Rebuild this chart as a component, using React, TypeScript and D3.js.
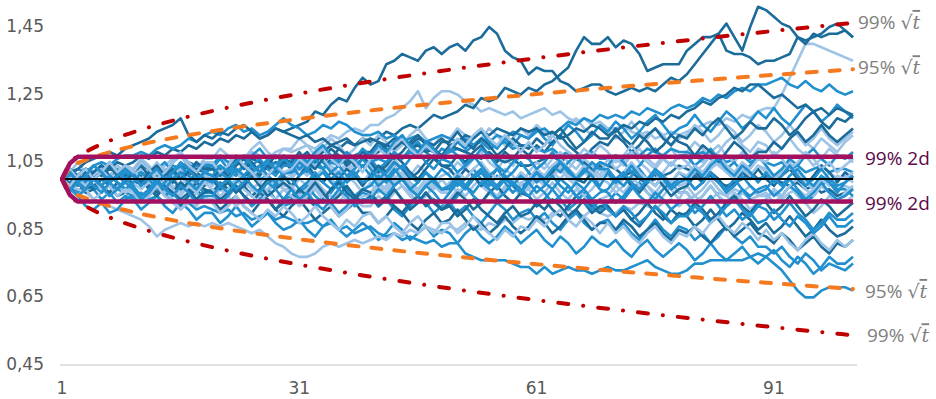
import * as d3 from "d3";

// simulated price paths, values in hundredths, t = 1..101
const darkPaths: number[][] = [
  [100,102,101,103,102,104,103,105,104,105, 107,106,108,107,109,108,110,109,111,110, 112,111,113,112,114,112,113,115,114,115, 116,117,120,119,122,124,123,127,130,128,129, 134,135,137,136,135,138,139,137,139,140, 138,141,142,145,143,138,136,135,131,133, 132,132,129,128,126,127,128,128,126,125, 126,127,126,127,126,128,130,129,131,134, 137,140,143,146,142,138,145,151,150,148, 146,145,142,140,143,142,143,143,144,142],
  [100,99,101,100,102,101,103,102,101,102, 104,103,101,102,104,103,105,104,103,104, 102,103,105,104,106,105,103,104,106,105, 106,107,106,108,110,109,111,110,112,111,112, 114,113,115,116,115,117,119,118,119,120, 122,121,124,123,124,127,126,125,127,126, 128,129,131,133,138,142,140,140,142,139, 141,140,137,132,133,134,134,134,138,140, 142,142,143,138,137,137,136,134,135,135, 136,137,142,141,142,143,145,146,144,142],
  [100,98,99,96,97,100,98,95,96,97, 94,95,98,96,93,92,95,97,94,94, 91,93,95,92,90,93,94,91,89,92, 94,91,88,90,92,89,91,93,90,90, 87,89,92,90,87,85,88,90,87,88, 91,88,85,87,84,86,89,86,84,86, 89,87,84,86,89,91,88,85,87,87, 85,88,86,83,85,87,84,82,85,84, 86,83,81,84,86,83,85,87,84,83, 81,84,82,79,81,83,80,78,81,80, 82],
  [100,103,101,99,102,104,101,100,103,101, 99,102,100,97,99,102,104,101,98,100, 103,101,104,106,103,101,104,102,105,103, 106,108,105,103,106,109,107,104,106,105, 102,104,107,105,102,100,103,106,104,104, 107,105,108,110,107,105,108,106,109,107, 110,108,111,113,110,108,106,109,111,110, 113,111,108,110,113,115,112,110,113,112, 115,113,116,118,115,112,114,117,115,115, 118,116,113,115,118,120,117,115,118,117, 119],
  [100,98,99,97,98,100,99,101,100,99, 100,102,101,99,100,102,101,103,102,101, 102,104,103,101,102,104,103,105,104,104, 105,104,106,105,107,106,105,107,108,107, 108,110,109,111,110,112,111,110,112,110, 111,113,112,114,113,115,114,113,115,114, 115,113,114,112,113,115,114,116,115,113, 114,116,115,117,116,118,117,119,118,120, 121,123,122,124,125,127,126,128,128,126, 124,125,123,121,122,120,121,119,121,120, 119],
  [100,102,103,105,106,107,108,107,109,110, 111,112,114,115,116,118,113,111,113,112, 114,113,115,116,114,112,113,115,114,113, 112,113,111,112,110,111,112,110,111,112, 111,110,112,111,109,110,108,109,107,110, 109,108,107,106,108,106,105,106,104,104, 105,106,107,105,107,106,105,103,105,104, 103,101,102,100,99,100,101,102,104,103, 102,100,101,99,98,99,100,102,100,101, 100,99,98,99,97,98,96,97,95,96, 97],
  [100,97,99,102,100,98,101,99,96,99, 101,98,96,99,97,94,96,99,97,96, 99,97,100,98,95,97,100,98,101,98, 101,104,101,99,102,100,103,101,98,101, 104,102,105,103,100,102,105,107,104,103, 100,103,101,98,100,103,101,98,96,100, 103,100,102,105,103,100,99,102,104,102, 99,101,98,96,99,101,98,95,97,98, 101,99,102,100,97,99,102,100,103,100, 98,101,103,100,98,101,104,102,99,102, 100],
  [100,102,99,97,100,98,96,99,97,98, 100,97,95,98,96,99,97,94,96,97, 94,96,98,95,93,96,94,91,93,94, 97,95,92,94,97,99,96,94,97,96, 93,95,92,90,93,95,92,94,91,93, 96,94,91,93,96,98,95,93,96,95, 92,94,91,89,92,95,93,90,92,92, 89,91,88,90,93,90,88,91,89,90, 93,91,88,90,93,95,92,90,93,93, 90,92,95,92,89,91,94,92,89,91, 93],
  [100,98,101,103,100,102,104,101,99,102, 104,101,99,102,100,97,99,102,100,100, 97,99,96,98,101,98,95,97,99,97, 94,96,99,96,93,95,98,95,93,95, 92,94,97,94,91,93,96,93,91,92, 89,91,94,91,89,87,90,92,89,90, 93,91,94,92,89,91,94,92,90,92, 89,91,88,86,89,92,89,87,90,89, 86,88,91,88,85,87,90,88,85,87, 84,86,89,86,83,85,88,85,83,84, 86],
  [100,98,101,103,100,102,99,101,104,101, 99,102,104,101,103,100,102,105,103,103, 101,104,106,103,105,102,104,107,105,105, 108,105,103,106,109,107,104,106,108,108, 111,109,106,108,111,113,110,108,111,111, 114,111,109,112,110,107,109,112,110,109, 112,110,113,115,112,109,111,114,112,112, 115,112,110,113,111,108,110,113,111,110, 107,110,108,105,108,111,109,106,108,108, 111,109,112,114,111,113,116,113,111,113, 115],
];

const midPaths: number[][] = [
  [100,99,98,99,97,98,96,97,96,95, 96,94,95,93,94,92,93,91,92,91, 90,91,89,90,88,89,90,88,89,88, 87,87,88,86,87,85,86,84,85,86,84, 83,84,82,83,82,81,82,80,81,81, 78,77,76,76,76,76,75,74,74,72, 74,72,73,74,73,73,72,73,74,73, 73,74,75,76,74,73,72,72,73,75, 75,76,76,76,76,76,77,78,77,75, 73,70,67,65,65,67,68,68,68,67],
  [100,98,96,99,97,94,96,93,95,94, 91,93,95,92,90,93,91,88,90,90, 87,89,92,89,86,88,90,87,85,86, 88,85,83,86,88,85,83,85,87,85, 82,84,87,85,82,84,86,83,85,84, 81,84,86,83,81,83,86,84,81,83, 85,82,80,83,81,78,80,83,81,80, 82,79,77,80,82,79,77,79,81,79, 76,78,81,78,76,78,80,77,75,77, 79,76,74,77,75,72,74,77,75,75, 77],
  [100,102,99,97,100,98,96,99,97,98, 100,97,95,98,96,93,95,98,96,96, 93,95,98,95,93,96,94,91,94,95, 97,94,92,95,93,90,92,95,93,95, 92,94,91,89,92,95,93,90,92,93, 90,92,89,87,90,93,91,88,90,91, 88,90,87,85,88,90,87,85,87,88, 85,87,84,82,85,88,85,83,86,85, 82,84,81,83,86,83,81,83,80,80, 78,80,77,75,78,76,73,75,74,73, 75],
  [100,103,101,99,102,104,101,103,100,102, 105,103,100,102,105,107,104,102,104,104, 101,103,106,104,101,103,106,104,101,103, 106,104,107,109,106,104,107,105,108,106, 103,105,108,106,109,111,108,106,109,108, 111,109,112,114,111,109,112,110,113,112, 115,112,110,113,116,114,111,113,116,114, 117,115,112,114,117,119,116,113,115,116, 119,116,114,117,120,118,115,117,120,118, 121,118,116,119,122,120,117,119,122,120, 118],
  [100,102,101,99,100,102,101,100,102,101, 102,101,103,102,104,103,102,104,103,103, 104,102,103,101,102,100,101,103,102,102, 103,102,104,103,105,104,106,105,104,105, 106,105,107,106,108,107,109,108,107,108, 109,108,110,112,111,113,112,114,113,112, 114,115,113,115,117,116,118,117,119,118, 119,118,120,119,121,120,119,121,122,121, 122,124,123,125,124,126,127,126,128,128, 129,130,128,127,129,127,126,128,126,125, 126],
  [100,101,103,102,104,105,104,106,107,107, 108,107,109,110,109,110,112,111,113,114, 113,115,116,114,115,113,114,116,118,116, 115,113,114,116,115,117,116,114,113,113, 114,112,113,111,112,113,111,112,113,112, 111,112,110,111,109,110,111,109,110,110, 109,108,109,107,108,106,107,108,106,106, 107,106,108,107,109,108,107,109,108,108, 107,108,106,107,105,106,107,105,106,105, 104,105,103,104,102,103,104,102,103,103, 102],
  [100,97,95,92,91,93,90,91,94,95, 93,96,98,95,97,99,96,94,97,96, 93,95,98,95,92,94,97,94,92,93, 96,98,95,93,96,99,97,94,96,95, 92,94,97,94,91,93,96,93,91,92, 95,98,95,93,96,94,97,99,96,95, 92,94,97,94,91,93,96,93,91,93, 96,94,97,99,96,94,97,99,96,96, 93,95,98,95,92,94,97,94,92,94, 97,95,98,96,93,95,98,100,97,97, 95],
  [100,102,99,101,104,102,99,101,103,101, 98,100,103,105,102,100,103,105,102,103, 106,103,101,104,102,99,101,98,100,100, 97,99,102,99,97,100,97,95,97,98, 101,99,102,104,101,99,102,100,103,101, 98,100,103,100,98,101,99,96,98,99, 96,98,101,98,96,99,97,94,96,97, 100,98,101,103,100,98,101,99,102,100, 97,99,102,99,97,100,97,95,97,98, 95,97,100,97,94,96,99,96,94,95, 97],
  [100,98,101,103,100,102,105,102,100,102, 105,103,100,102,105,107,104,102,105,104, 107,105,102,104,107,109,106,104,107,106, 103,105,108,105,102,104,101,103,106,103, 100,102,105,103,106,108,105,103,106,105, 102,104,107,104,101,103,100,102,105,102, 99,101,104,102,105,107,104,102,105,104, 107,105,102,104,107,109,106,104,107,107, 104,106,109,106,103,105,102,104,107,104, 101,103,106,104,107,109,106,104,107,106, 108],
  [100,102,99,97,100,98,101,99,97,99, 102,100,97,99,102,104,101,99,102,101, 98,100,103,101,104,106,103,101,104,104, 101,103,106,103,100,102,99,101,104,101, 98,100,103,100,97,99,102,99,97,98, 101,98,96,99,97,94,96,99,97,95, 98,96,93,95,98,95,93,91,94,91, 89,92,90,87,89,92,90,87,89,89, 92,90,87,89,92,94,91,89,92,91, 88,90,93,90,88,85,87,90,88,88, 90],
  [100,98,95,97,100,98,95,97,99,97, 94,96,99,97,100,102,99,97,100,99, 102,100,97,99,102,104,101,99,102,102, 105,103,100,102,99,97,100,102,99,100, 103,101,98,100,97,95,98,100,97,97, 100,98,101,103,100,98,101,99,96,99, 102,99,97,100,98,95,97,100,97,96, 93,95,98,95,93,96,94,91,93,93, 90,92,95,92,89,91,88,90,87,88, 91,88,86,89,87,84,86,89,86,86, 88],
  [100,102,99,101,104,102,99,101,103,101, 98,101,103,100,102,105,103,100,102,101, 104,102,105,107,104,102,105,103,106,104, 107,105,108,110,107,105,108,106,109,107, 110,108,111,113,110,108,111,109,106,109, 107,104,106,109,107,104,102,105,107,106, 103,105,108,105,103,100,102,105,103,103, 100,102,99,97,100,103,101,98,100,100, 103,101,104,106,103,101,104,102,99,102, 99,101,104,101,98,100,103,100,98,99, 101],
  [100,97,99,101,98,96,99,97,100,98, 95,97,100,97,95,98,96,93,95,95, 98,96,99,101,98,96,99,97,94,97, 94,96,93,91,94,97,95,92,94,94, 97,95,98,100,97,95,98,96,93,96, 99,97,100,102,99,97,100,98,101,99, 102,100,103,105,102,100,103,101,98,102, 99,101,104,101,99,102,100,97,99,100, 97,99,102,99,96,98,101,98,96,97, 100,98,101,103,100,98,101,99,96,99, 101],
];

const lightPaths: number[][] = [
  [100,101,99,100,102,101,100,102,101,101, 103,102,104,103,102,104,105,103,104,104, 106,105,107,106,108,107,106,108,109,108, 109,110,109,111,113,112,114,115,114,116,116, 118,119,121,123,126,121,124,126,126,125, 123,122,120,121,120,119,120,118,119,120, 121,119,120,118,117,118,116,117,115,115, 116,114,113,114,112,113,114,113,114,115, 116,117,116,118,117,119,118,120,121,121, 125,130,135,140,140,139,138,137,136,135],
  [100,98,97,96,94,93,92,91,90,89, 88,86,83,85,86,87,86,87,86,87, 86,87,86,85,84,85,83,81,80,78, 77,77,78,80,81,80,81,82,81,82, 83,82,84,83,85,84,86,85,84,86, 85,87,86,85,87,86,88,87,89,88, 89,88,90,89,91,90,89,91,90,89, 90,92,91,93,92,91,93,94,92,94, 95,93,94,96,95,97,96,94,95,95, 96,94,96,97,95,97,98,96,97,98, 97],
  [100,102,105,102,100,103,105,102,104,103, 106,104,101,104,106,108,105,103,106,106, 109,107,104,106,109,111,108,106,109,109, 112,110,107,109,112,110,107,109,112,110, 113,111,108,110,113,115,112,110,113,112, 115,113,110,112,115,113,110,112,115,113, 116,114,111,113,116,118,115,113,116,115, 112,114,117,114,112,115,113,110,112,113, 116,114,111,113,116,114,111,113,116,114, 111,113,116,113,110,112,115,112,110,112, 114],
  [100,103,101,98,100,103,101,104,102,102, 99,101,98,96,99,101,98,100,102,99, 102,100,97,99,102,104,101,99,102,101, 104,102,105,107,104,102,105,103,106,104, 101,103,106,103,101,104,102,99,101,102, 105,103,106,108,105,103,106,104,107,106, 103,105,102,100,103,106,104,101,103,103, 106,104,107,109,106,104,107,109,106,108, 111,109,106,108,111,113,110,108,111,110, 107,109,112,109,107,104,106,109,107,107, 105],
  [100,102,99,97,100,98,96,99,97,98, 101,99,96,98,101,103,100,98,101,100, 97,99,102,99,97,94,96,99,97,97, 100,98,101,103,100,98,101,99,96,99, 96,98,101,98,96,93,95,98,96,96, 99,97,100,102,99,97,100,98,95,98, 101,99,102,104,101,99,102,100,103,101, 98,100,103,100,98,95,97,100,98,99, 102,100,103,105,102,100,103,101,104,103, 100,102,105,102,100,97,99,102,100,101, 99],
  [100,98,95,97,100,97,95,98,96,97, 94,96,99,96,94,91,93,96,94,94, 97,95,92,94,97,99,96,94,97,95, 92,94,97,94,92,89,91,94,92,92, 95,93,96,98,95,93,96,94,91,94, 97,95,98,100,97,95,98,96,99,97, 94,96,99,96,94,97,95,92,94,95, 98,96,99,101,98,96,99,97,94,98, 95,97,100,97,95,93,96,98,95,96, 93,95,98,95,93,90,92,95,93,93, 95],
  [100,103,100,98,101,103,100,102,99,101, 98,100,103,100,98,96,99,97,100,98, 101,99,96,98,101,103,100,98,101,100, 103,101,104,106,103,101,104,102,99,102, 99,101,104,101,99,97,100,98,96,99, 96,98,101,98,96,94,97,99,96,97, 100,98,101,103,100,98,95,97,100,99, 96,98,101,98,96,93,95,98,96,96, 93,95,98,95,93,96,94,91,93,94, 97,95,98,100,97,95,98,96,93,96, 98],
  [100,98,101,103,100,102,105,102,104,103, 100,102,105,102,100,98,101,99,102,101, 98,100,103,100,98,95,97,100,98,98, 95,97,100,97,95,93,96,94,97,96, 99,97,100,102,99,97,100,98,96,99, 102,100,103,105,102,100,103,101,98,102, 105,103,106,108,105,103,106,104,101,106, 103,105,108,105,103,100,102,105,103,104, 107,105,108,110,107,105,108,106,109,108, 111,109,112,114,111,109,112,110,108,111, 113],
  [100,102,99,97,100,98,101,99,96,99, 97,99,102,99,97,95,98,96,99,97, 95,97,100,97,95,93,96,94,97,95, 93,95,98,95,93,96,94,92,95,95, 98,96,99,101,98,96,99,97,100,97, 100,98,101,103,100,98,101,99,102,100, 103,101,104,106,103,101,104,102,100,103, 100,102,105,102,100,98,101,99,102,101, 104,102,105,107,104,102,105,103,106,105, 108,106,103,105,108,106,103,105,102,104, 106],
  [100,98,95,97,94,96,98,95,97,96, 93,95,98,95,93,91,94,92,95,93, 90,92,95,92,90,88,91,89,92,90, 87,89,92,89,87,85,88,86,89,90, 87,89,86,84,87,89,86,84,87,87, 84,86,89,86,84,82,85,83,86,85, 88,86,89,91,88,86,89,87,84,87, 84,86,83,81,84,86,83,81,84,83, 86,84,87,89,86,84,87,85,82,85, 82,84,81,79,82,84,81,79,82,80, 82],
  [100,98,101,103,100,102,105,102,104,102, 105,103,100,102,105,107,104,102,105,105, 102,104,107,104,102,99,101,104,102,103, 106,104,107,109,106,104,107,105,102,106, 109,107,110,112,109,107,110,108,106,109, 112,110,113,115,112,110,113,111,108,111, 108,110,113,110,108,106,109,107,110,108, 105,107,110,107,105,103,106,104,107,105, 102,104,107,104,102,100,103,101,104,102, 99,101,104,101,99,97,100,98,101,100, 102],
];

// confidence bands: half-widths sampled along t
const bandT = [1, 2, 4, 7, 11, 16, 22, 31, 41, 51, 61, 71, 81, 91, 101];
const band99 = [0, 0.0462, 0.08, 0.1131, 0.1461, 0.1789, 0.2117, 0.253, 0.2922, 0.3267, 0.3579, 0.3865, 0.4132, 0.4383, 0.462];
const band95 = [0, 0.0325, 0.0563, 0.0796, 0.1028, 0.1259, 0.1489, 0.178, 0.2056, 0.2298, 0.2517, 0.2719, 0.2907, 0.3083, 0.325];
const twoDayT = [1, 2, 3, 101];
const twoDay = [0, 0.047, 0.066, 0.066];

const yTicks = [0.45, 0.65, 0.85, 1.05, 1.25, 1.45];
const xTicks = [1, 31, 61, 91];

const DARK = "#1b6c9a";
const MID = "#2290cf";
const LIGHT = "#9dc3e6";

export default function App() {
  const x = d3.scaleLinear().domain([1, 101]).range([62, 853]);
  const y = d3.scaleLinear().domain([0.45, 1.45]).range([365, 27]);

  const pathLine = d3
    .line<number>()
    .x((_, i) => x(i + 1))
    .y((v) => y(v / 100));

  const bandLine = (half: number[], sign: number) =>
    d3
      .line<number>()
      .x((_, i) => x(bandT[i]))
      .y((h) => y(1 + sign * h))
      .curve(d3.curveMonotoneX)(half) || "";

  const twoDayLine = (sign: number) =>
    d3
      .line<number>()
      .x((_, i) => x(twoDayT[i]))
      .y((h) => y(1 + sign * h))(twoDay) || "";

  // interleave the shades so no colour sits wholly on top
  const series: { d: number[]; c: string }[] = [];
  const n = Math.max(darkPaths.length, midPaths.length, lightPaths.length);
  for (let i = 0; i < n; i++) {
    if (midPaths[i]) series.push({ d: midPaths[i], c: MID });
    if (lightPaths[i]) series.push({ d: lightPaths[i], c: LIGHT });
    if (darkPaths[i]) series.push({ d: darkPaths[i], c: DARK });
  }

  const sqrtLabel = (label: string, lx: number, ly: number) => (
    <text x={lx} y={ly} dominantBaseline="middle" fill="#808080" fontSize={19} fontFamily="Open Sans">
      {label}
      <tspan fontFamily="DejaVu Serif">√</tspan>
      <tspan fontFamily="DejaVu Serif" fontStyle="italic" style={{ textDecoration: "overline" }}>t</tspan>
    </text>
  );

  return (
    <svg width={936} height={399} style={{ position: "absolute", left: 0, top: 0 }}>
      {yTicks.map((t) => (
        <text key={t} x={44} y={y(t)} textAnchor="end" dominantBaseline="middle" fill="#595959" fontSize={17} fontFamily="DejaVu Sans">
          {d3.format(".2f")(t).replace(".", ",")}
        </text>
      ))}
      <line x1={60} x2={857} y1={y(0.45)} y2={y(0.45)} stroke="#d9d9d9" strokeWidth={1.3} />
      {xTicks.map((t) => (
        <text key={t} x={x(t)} y={394} textAnchor="middle" fill="#595959" fontSize={17} fontFamily="DejaVu Sans">
          {t}
        </text>
      ))}

      {series.map((s, i) => (
        <path key={i} d={pathLine(s.d) || ""} fill="none" stroke={s.c} strokeWidth={2.6} strokeLinejoin="round" />
      ))}

      <line x1={x(1)} x2={x(101)} y1={y(1)} y2={y(1)} stroke="#000" strokeWidth={2} />

      {[1, -1].map((s) => (
        <path key={"o" + s} d={bandLine(band95, s)} fill="none" stroke="#f57a1f" strokeWidth={4} strokeDasharray="10,13" strokeLinecap="round" />
      ))}
      {[1, -1].map((s) => (
        <path key={"r" + s} d={bandLine(band99, s)} fill="none" stroke="#c00000" strokeWidth={4} strokeDasharray="10,15,0.1,15" strokeLinecap="round" />
      ))}
      {[1, -1].map((s) => (
        <path key={"m" + s} d={twoDayLine(s)} fill="none" stroke="#a3105f" strokeWidth={4.5} strokeLinejoin="round" />
      ))}

      {sqrtLabel("99% ", 858, y(1 + band99[band99.length - 1]) + 1)}
      {sqrtLabel("95% ", 858, y(1 + band95[band95.length - 1]) + 0)}
      <text x={865} y={y(1 + twoDay[3]) + 3} dominantBaseline="middle" fill="#5c0a4a" fontSize={19} fontFamily="Open Sans">99% 2d</text>
      <text x={865} y={y(1 - twoDay[3]) + 4} dominantBaseline="middle" fill="#5c0a4a" fontSize={19} fontFamily="Open Sans">99% 2d</text>
      {sqrtLabel("95% ", 865, y(1 - band95[band95.length - 1]) + 4)}
      {sqrtLabel("99% ", 867, y(1 - band99[band99.length - 1]) + 2)}
    </svg>
  );
}
